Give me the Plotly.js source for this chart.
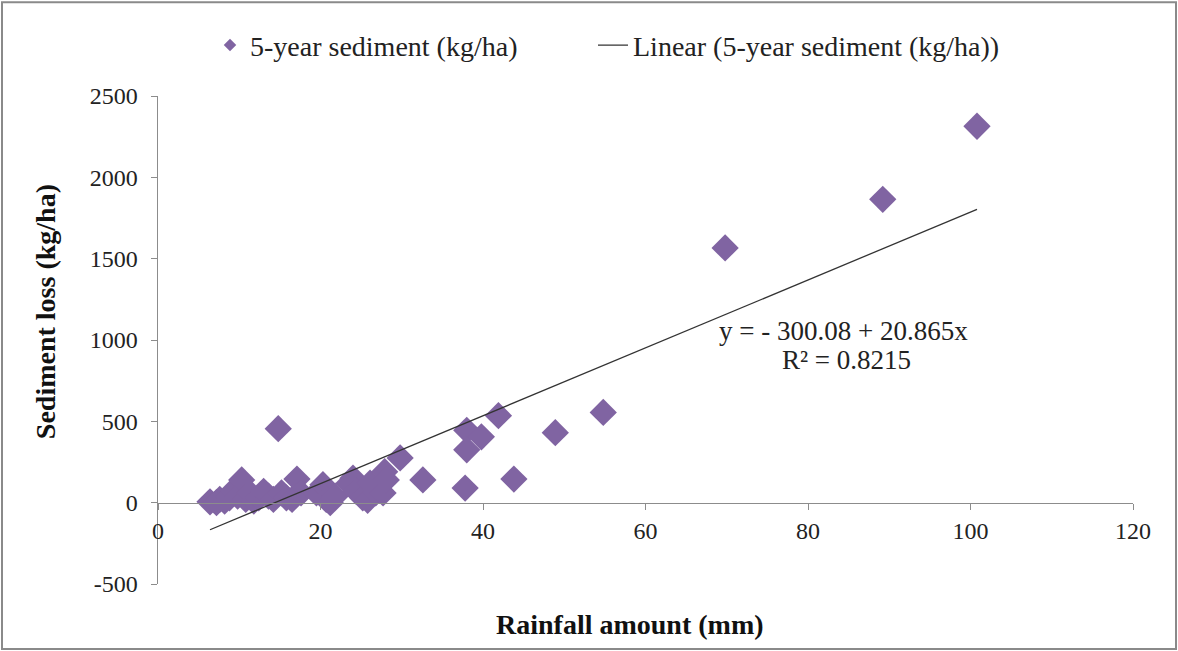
<!DOCTYPE html>
<html>
<head>
<meta charset="utf-8">
<script src="https://cdn.plot.ly/plotly-3.0.1.min.js"></script>
<style>
html,body{margin:0;padding:0;background:#fff;}
#chart{width:1178px;height:651px;}
</style>
</head>
<body>
<div id="chart"></div>
<script>
// Rainfall amount (mm)
var rainfall = [6.4, 7.2, 7.6, 8.2, 8.8, 9.3, 9.8, 10.3, 10.8, 11.3, 11.8, 12.4, 13.0, 13.6, 14.2, 14.8, 15.2, 15.8, 16.5, 17.1, 17.6, 19.5, 20.3, 20.7, 21.2, 21.8, 23.5, 24.0, 24.4, 25.2, 25.8, 26.1, 26.8, 27.7, 27.9, 28.1, 29.8, 32.6, 37.8, 38.0, 38.0, 39.8, 41.9, 43.8, 48.9, 54.8, 69.8, 89.2, 100.8];
// 5-year sediment (kg/ha)
var sediment = [5, 0, 20, 10, 30, 75, 40, 140, 20, 60, 10, 30, 70, 40, 20, 455, 60, 30, 20, 145, 60, 60, 110, 20, 0, 40, 120, 150, 70, 30, 15, 120, 60, 60, 190, 140, 275, 140, 90, 445, 325, 405, 535, 145, 430, 555, 1566, 1865, 2314];
// Linear trend coefficients shown on the chart
var intercept = -300.08;
var slope = 20.865;
var rSquared = 0.8215;
// Axis tick values and labels
var yTickVals = [-500, 0, 500, 1000, 1500, 2000, 2500];
var yTickText = ['-500', '0', '500', '1000', '1500', '2000', '2500'];
var xTickVals = [0, 20, 40, 60, 80, 100, 120];
var xTickText = ['0', '20', '40', '60', '80', '100', '120'];

var xMin = Math.min.apply(null, rainfall);
var xMax = Math.max.apply(null, rainfall);
var trendX = [xMin, xMax];
var trendY = trendX.map(function (v) { return intercept + slope * v; });

var serif = "Liberation Serif, Times New Roman, serif";

var traces = [
  {
    x: rainfall, y: sediment, type: 'scatter', mode: 'markers',
    name: '5-year sediment (kg/ha)', legend: 'legend',
    marker: {symbol: 'diamond', size: 21, color: '#8064A2'}
  },
  {
    x: trendX, y: trendY, type: 'scatter', mode: 'lines',
    name: 'Linear (5-year sediment (kg/ha))', legend: 'legend2',
    line: {color: '#333333', width: 1.3}
  }
];

var W = 975, H = 488.3;
function px(x) { return (x - 158) / W; }
function py(y) { return (584 - y) / H; }

var legendFont = {family: serif, size: 28, color: '#222'};

var layout = {
  width: 1178, height: 651,
  margin: {l: 158, r: 45, t: 95.7, b: 67.0},
  paper_bgcolor: '#fff', plot_bgcolor: '#fff',
  font: {family: serif, size: 24, color: '#222'},
  showlegend: true,
  legend: {
    orientation: 'h', x: px(210), xanchor: 'left',
    y: py(45), yanchor: 'middle', font: legendFont
  },
  legend2: {
    orientation: 'h', x: px(593), xanchor: 'left',
    y: py(45), yanchor: 'middle', font: legendFont
  },
  xaxis: {
    range: [0, 120], tickmode: 'array', tickvals: xTickVals, ticktext: xTickText,
    showgrid: false, zeroline: false,
    showline: true, linecolor: '#8c8c8c', linewidth: 1.5,
    ticks: 'outside', ticklen: 6, tickcolor: '#8c8c8c',
    anchor: 'free', position: 500 / 3000,
    tickfont: {family: serif, size: 24, color: '#222'},
    title: {text: ''}
  },
  yaxis: {
    range: [-500, 2500], tickmode: 'array', tickvals: yTickVals, ticktext: yTickText,
    showgrid: false, zeroline: false,
    showline: true, linecolor: '#8c8c8c', linewidth: 1.5,
    ticks: 'outside', ticklen: 6, tickcolor: '#8c8c8c',
    ticklabelstandoff: 8,
    tickfont: {family: serif, size: 24, color: '#222'},
    title: {text: ''}
  },
  annotations: [
    {
      xref: 'paper', yref: 'paper',
      x: px(630), y: py(625), xanchor: 'center', yanchor: 'middle',
      text: '<b>Rainfall amount (mm)</b>', showarrow: false,
      font: {family: serif, size: 28, color: '#111'}
    },
    {
      xref: 'paper', yref: 'paper',
      x: px(45), y: py(312), xanchor: 'center', yanchor: 'middle', textangle: -90,
      text: '<b>Sediment loss (kg/ha)</b>', showarrow: false,
      font: {family: serif, size: 28, color: '#111'}
    },
    {
      xref: 'paper', yref: 'paper', x: px(843), y: py(331), xanchor: 'center', yanchor: 'middle',
      text: 'y = - ' + Math.abs(intercept).toFixed(2) + ' + ' + slope.toFixed(3) + 'x',
      showarrow: false, font: {family: serif, size: 27, color: '#222'}
    },
    {
      xref: 'paper', yref: 'paper', x: px(846), y: py(360), xanchor: 'center', yanchor: 'middle',
      text: 'R² = ' + rSquared.toFixed(4),
      showarrow: false, font: {family: serif, size: 27, color: '#222'}
    }
  ],
  shapes: [
    {
      type: 'rect', xref: 'paper', yref: 'paper',
      x0: px(2), x1: px(1176), y0: py(649), y1: py(2),
      line: {color: '#8a8a8a', width: 2}, fillcolor: 'rgba(0,0,0,0)', layer: 'below'
    }
  ]
};

Plotly.newPlot('chart', traces, layout, {displayModeBar: false, staticPlot: true}).then(function (gd) {
  // shrink the legend diamond to the small legend glyph of the original
  var pts = gd.querySelectorAll('.legendpoints path.scatterpts');
  pts.forEach(function (p) {
    var t = p.getAttribute('transform') || '';
    p.setAttribute('transform', t + ' scale(0.6)');
  });
});
</script>
</body>
</html>
